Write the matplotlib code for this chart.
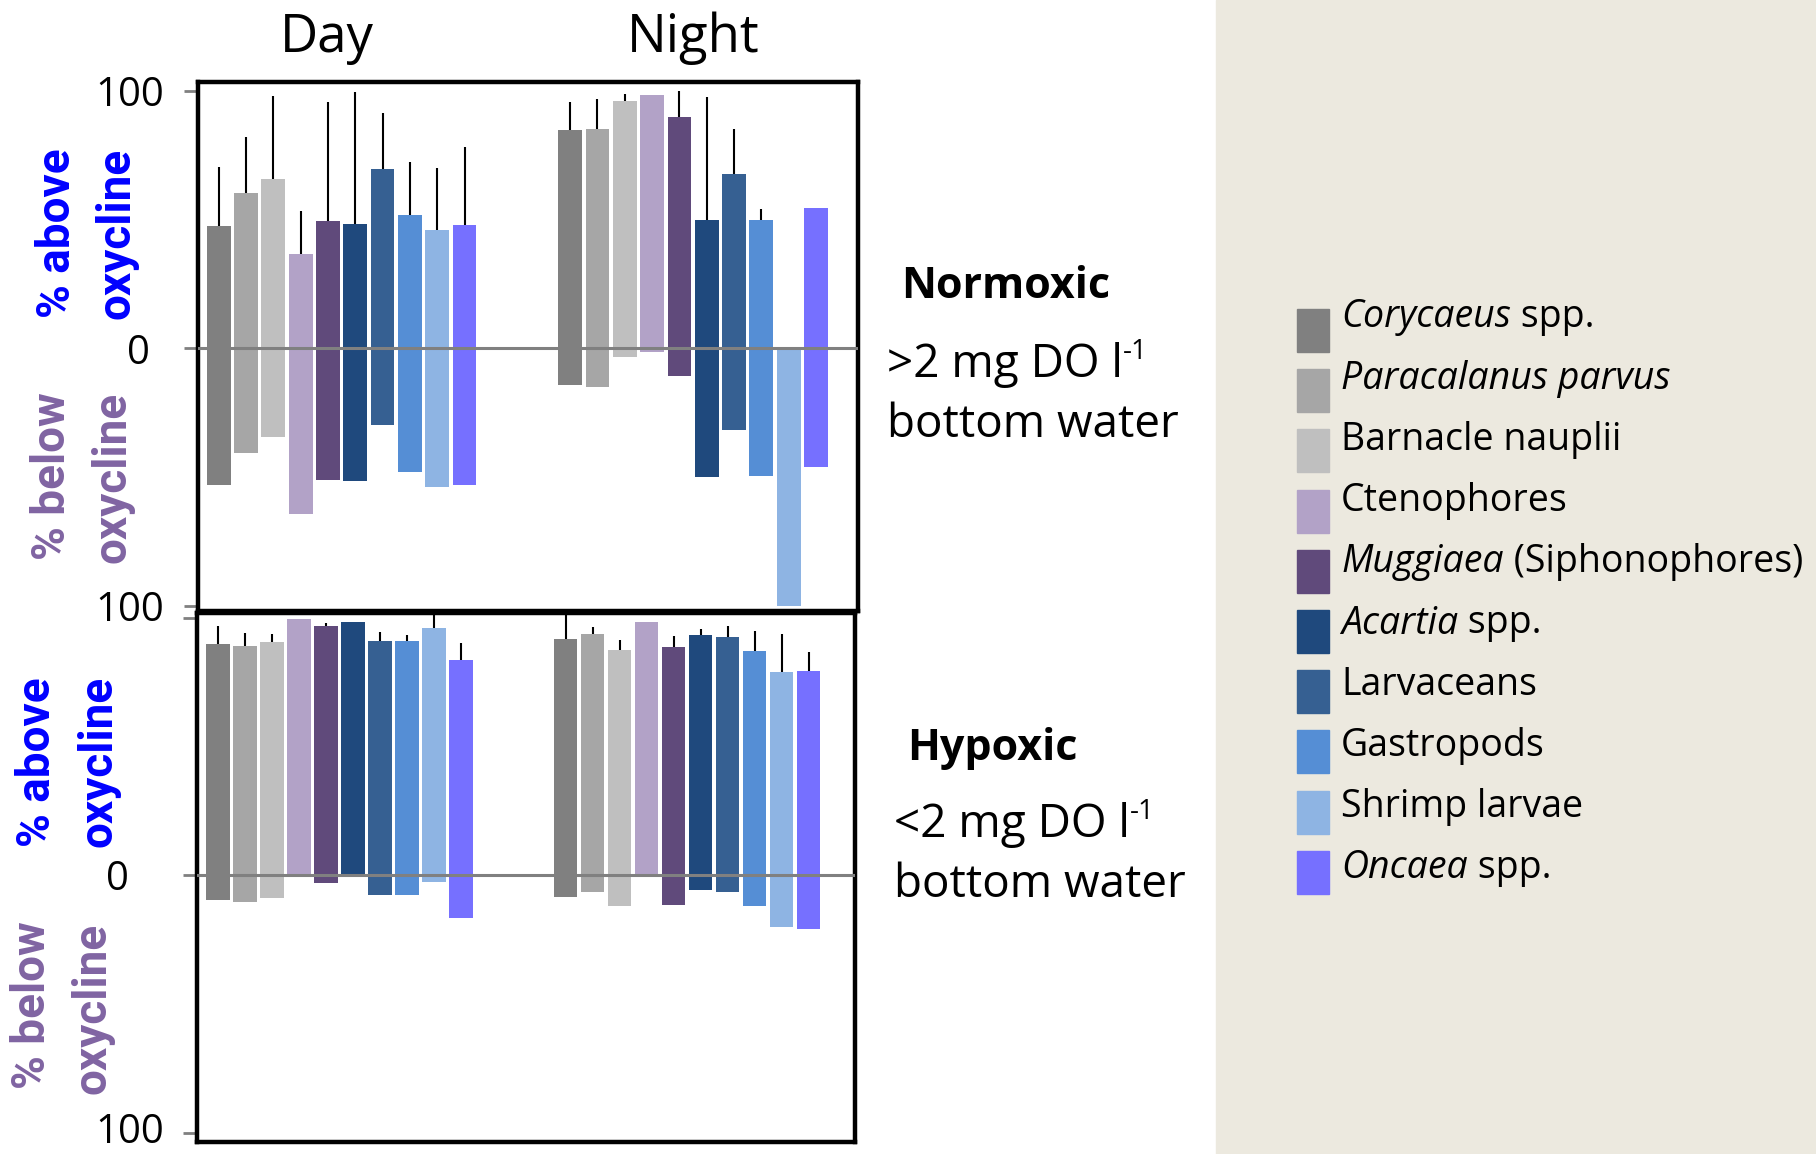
import matplotlib
matplotlib.use("Agg")
import matplotlib.pyplot as plt
from matplotlib.patches import Rectangle
import numpy as np

# taxa shown in both panels, in plotting order
taxa = [
    ("Corycaeus", " spp."),
    ("Paracalanus parvus", ""),
    ("", "Barnacle nauplii"),
    ("", "Ctenophores"),
    ("Muggiaea", " (Siphonophores)"),
    ("Acartia", " spp."),
    ("", "Larvaceans"),
    ("", "Gastropods"),
    ("", "Shrimp larvae"),
    ("Oncaea", " spp."),
]
colors = ["#808080", "#A6A6A6", "#BFBFBF", "#B2A2C7", "#604A7B",
          "#1F497D", "#366092", "#558ED5", "#8EB4E3", "#7670FF"]

# normoxic (>2 mg DO/l bottom water)
norm_day_above = [47.4, 60.3, 65.7, 36.7, 49.4, 48.3, 69.5, 51.7, 45.9, 47.9]
norm_day_below = [53.0, 40.5, 34.6, 64.4, 51.1, 51.5, 30.0, 47.9, 53.8, 53.0]
norm_day_err = [23.2, 21.7, 32.3, 16.5, 46.2, 51.4, 22.1, 20.6, 24.1, 30.4]
norm_night_above = [84.8, 85.2, 96.0, 98.3, 89.8, 49.7, 67.9, 50.0, 0.0, 54.6]
norm_night_below = [14.1, 15.2, 3.5, 1.5, 10.6, 50.1, 31.7, 49.7, 100.0, 46.2]
norm_night_err = [11.1, 11.6, 3.0, 0, 10.1, 47.9, 17.5, 4.3, 0, 0]

# hypoxic (<2 mg DO/l bottom water)
hyp_day_above = [89.8, 89.1, 90.6, 99.5, 96.7, 98.4, 91.0, 91.0, 96.0, 83.7]
hyp_day_below = [9.8, 10.5, 9.0, 0.0, 3.0, 0.0, 7.8, 7.8, 2.8, 16.5]
hyp_day_err = [6.8, 4.9, 2.9, 0, 1.1, 0, 3.4, 2.2, 5.5, 6.3]
hyp_night_above = [91.6, 93.6, 87.4, 98.5, 88.6, 93.2, 92.4, 87.0, 79.0, 79.3]
hyp_night_below = [8.3, 6.4, 11.9, 0.5, 11.5, 5.7, 6.4, 11.9, 20.0, 21.0]
hyp_night_err = [9.4, 2.6, 3.9, 0, 4.1, 2.2, 4.3, 8.0, 14.5, 7.4]

W, H = 1816, 1154
fig = plt.figure(figsize=(W / 100, H / 100), dpi=100)
plt.rcParams["font.family"] = ["Open Sans", "DejaVu Sans"]

# full-figure overlay in pixel units for background and free text
ov = fig.add_axes([0, 0, 1, 1])
ov.set_xlim(0, W)
ov.set_ylim(H, 0)
ov.axis("off")
ov.add_patch(Rectangle((1216, 0), W - 1216, H, color="#ECE9DF", zorder=0))

BLUE = "#0000FF"
PURPLE = "#8064A2"


def draw_panel(rect, xlim, ylim, day, night):
    ax = fig.add_axes(rect)
    offset = 12.87
    x = np.arange(10)
    for xs, (above, below, err) in ((x, day), (x + offset, night)):
        above = np.array(above)
        below = np.array(below)
        ax.bar(xs, above + below, bottom=-below, width=0.87, color=colors, zorder=2)
        err = np.array(err)
        m = err > 0
        ax.vlines(xs[m], above[m], above[m] + err[m], color="black", lw=1.5, zorder=3)
    ax.axhline(0, color="#808080", lw=2.2, zorder=4)
    ax.set_xlim(*xlim)
    ax.set_ylim(*ylim)
    ax.set_xticks([])
    ax.set_yticks([-100, 0, 100])
    ax.tick_params(axis="y", length=10, width=2, color="#808080", labelleft=False)
    for s in ax.spines.values():
        s.set_linewidth(3.2)
        s.set_color("black")
    return ax


top = draw_panel([198 / W, 1 - 611 / H, 660 / W, 529 / H], (-0.76, 23.41), (-102.1, 103.5),
                 (norm_day_above, norm_day_below, norm_day_err),
                 (norm_night_above, norm_night_below, norm_night_err))
bot = draw_panel([197 / W, 1 - 1142 / H, 658 / W, 528.6 / H], (-0.78, 23.59), (-103.6, 101.65),
                 (hyp_day_above, hyp_day_below, hyp_day_err),
                 (hyp_night_above, hyp_night_below, hyp_night_err))

# y tick labels (the shared 100 between the panels is written once)
tick = dict(ha="right", va="center_baseline", fontsize=29)
tr = top.get_yaxis_transform()
top.text(-0.052, 100, "100", transform=tr, **tick)
top.text(-0.073, 0, "0", transform=tr, **tick)
top.text(-0.052, -100, "100", transform=tr, **tick)
tr = bot.get_yaxis_transform()
bot.text(-0.103, 0, "0", transform=tr, **tick)
bot.text(-0.050, -100, "100", transform=tr, ha="right", va="center", fontsize=29)

# y axis captions
ylab = dict(rotation=90, ha="center", va="center", fontsize=33, fontweight="bold",
            family=["Roboto", "DejaVu Sans"])
for (xa, ya, xb, yb), col, word in (
    ((57, 233, 117, 233), BLUE, "% above"),
    ((52, 476, 113, 477), PURPLE, "% below"),
    ((37, 762, 98, 761), BLUE, "% above"),
    ((32, 1005, 93, 1008), PURPLE, "% below"),
):
    ov.text(xa, ya, word, color=col, **ylab)
    ov.text(xb, yb, "oxycline", color=col, **ylab)

ov.text(326.6, 52, "Day", ha="center", va="baseline", fontsize=38)
ov.text(693.5, 52, "Night", ha="center", va="baseline", fontsize=38)

renderer = fig.canvas.get_renderer()


def text_run(x, y, parts):
    # draw pieces one after another along a shared baseline
    for s, kw, dy in parts:
        if not s:
            continue
        t = ov.text(x, y - dy, s, va="baseline", ha="left", **kw)
        bb = t.get_window_extent(renderer=renderer)
        x = ov.transData.inverted().transform((bb.x1, bb.y0))[0]


ann = 33
sup = dict(fontsize=20)
ov.text(901, 298, "Normoxic", fontsize=31, fontweight="bold", va="baseline")
text_run(887, 377, [(">2 mg DO l", dict(fontsize=ann), 0), ("-1", sup, 18)])
ov.text(887, 437, "bottom water", fontsize=ann, va="baseline")
ov.text(907, 760, "Hypoxic", fontsize=31, fontweight="bold", va="baseline")
text_run(894, 837, [("<2 mg DO l", dict(fontsize=ann), 0), ("-1", sup, 18)])
ov.text(894, 897, "bottom water", fontsize=ann, va="baseline")

# legend
for i, ((ital, plain), c) in enumerate(zip(taxa, colors)):
    y0 = 309 + i * 60.2
    ov.add_patch(Rectangle((1297, y0), 31.5, 43, color=c))
    text_run(1341, 327.5 + i * 61.2, [(ital, dict(fontsize=27, style="italic"), 0),
                                      (plain, dict(fontsize=27), 0)])

fig.savefig("out.png", dpi=100)
